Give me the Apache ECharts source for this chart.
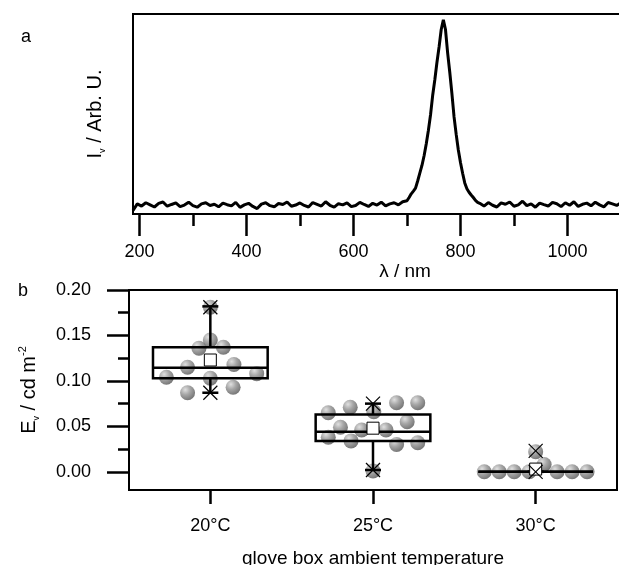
<!DOCTYPE html>
<html>
<head>
<meta charset="utf-8">
<script src="https://cdn.jsdelivr.net/npm/echarts@6/dist/echarts.min.js"></script>
<style>
  html, body { margin: 0; padding: 0; background: #fff; }
  #chart { width: 619px; height: 565px; }
</style>
</head>
<body>
<div id="chart"></div>
<script>
const FONT = '"Liberation Sans", Arial, sans-serif';

// panel a: emission spectrum
const wavelength = [
  188, 196, 204, 212, 220, 228, 236, 244, 252, 260, 268, 276, 284, 292, 300, 308, 316, 324, 332, 340,
  348, 356, 364, 372, 380, 388, 396, 404, 412, 420, 428, 436, 444, 452, 460, 468, 476, 484, 492, 500,
  508, 516, 524, 532, 540, 548, 556, 564, 572, 580, 588, 596, 604, 612, 620, 628, 636, 644, 652, 660,
  668, 676, 684, 692, 700, 704, 708, 712, 716, 720, 724, 728, 732, 736, 740, 744, 748, 752, 756, 760,
  764, 768, 772, 776, 780, 784, 788, 792, 796, 800, 804, 808, 812, 816, 820, 824, 828, 832, 836, 844,
  852, 860, 868, 876, 884, 892, 900, 908, 916, 924, 932, 940, 948, 956, 964, 972, 980, 988, 996, 1004,
  1012, 1020, 1028, 1036, 1044, 1052, 1060, 1068, 1076, 1084, 1092, 1100
];
const intensity = [
  0.018, 0.052, 0.041, 0.058, 0.047, 0.036, 0.055, 0.062, 0.040, 0.049, 0.057, 0.038, 0.046, 0.061, 0.043, 0.035, 0.052, 0.058, 0.044, 0.050,
  0.037, 0.056, 0.048, 0.042, 0.060, 0.034, 0.047, 0.055, 0.039, 0.028, 0.051, 0.058, 0.043, 0.037, 0.054, 0.049, 0.062, 0.040, 0.046, 0.057,
  0.044, 0.036, 0.059, 0.050, 0.041, 0.063, 0.045, 0.035, 0.053, 0.047, 0.057, 0.038, 0.044, 0.060, 0.049, 0.039, 0.055, 0.046, 0.061, 0.042,
  0.052, 0.058, 0.047, 0.063, 0.068, 0.085, 0.104, 0.118, 0.133, 0.170, 0.210, 0.250, 0.300, 0.360, 0.430, 0.510, 0.610, 0.690, 0.780, 0.860,
  0.950, 1.000, 0.950, 0.830, 0.730, 0.620, 0.500, 0.410, 0.330, 0.265, 0.210, 0.160, 0.130, 0.112, 0.098, 0.085, 0.070, 0.060, 0.055, 0.041,
  0.059, 0.045, 0.036, 0.057, 0.050, 0.062, 0.040, 0.047, 0.066, 0.043, 0.052, 0.035, 0.056, 0.048, 0.041, 0.060, 0.053, 0.038, 0.058, 0.045,
  0.063, 0.039, 0.050, 0.056, 0.042, 0.061, 0.047, 0.037, 0.059, 0.052, 0.044, 0.057
];
const lambdaTicks = [200, 400, 600, 800, 1000];

// panel b: illuminance per glove box temperature
const temperatures = ['20°C', '25°C', '30°C'];
const evTicks = [0, 0.05, 0.1, 0.15, 0.2];

const jitter20 = [0, 0, -0.07, 0.08, -0.14, 0.145, -0.27, 0.285, 0, -0.14, 0.14];
const ev20 = [0.181, 0.145, 0.136, 0.137, 0.115, 0.118, 0.104, 0.108, 0.103, 0.087, 0.093];
const jitter25 = [-0.275, -0.14, 0.005, 0.145, 0.275, -0.2, -0.07, 0.08, 0.21, -0.275, -0.135, 0.145, 0.275, 0];
const ev25 = [0.065, 0.071, 0.066, 0.076, 0.076, 0.049, 0.046, 0.046, 0.055, 0.038, 0.034, 0.030, 0.032, 0.001];
const jitter30 = [-0.316, -0.224, -0.132, -0.04, 0.052, 0.132, 0.224, 0.316, 0];
const ev30 = [0, 0, 0, 0, 0.008, 0, 0, 0, 0.022];

// [whisker low, q1, median, q3, whisker high]
const boxStats = [
  [0.087, 0.103, 0.1146, 0.137, 0.182],
  [0.002, 0.034, 0.044, 0.063, 0.075],
  [0, 0, 0, 0, 0]
];
const means = [0.123, 0.048, 0.003];
const minMarks = [0.087, 0.002, 0];
const maxMarks = [0.181, 0.075, 0.023];

const BOX_W = 0.705;

const chart = echarts.init(document.getElementById('chart'));

const ball = {
  color: new echarts.graphic.RadialGradient(0.35, 0.3, 0.75, [
    { offset: 0, color: '#d8d8d8' },
    { offset: 0.45, color: '#909090' },
    { offset: 1, color: '#505050' }
  ])
};

function scatterData(jit, vals, idx) {
  return vals.map((v, k) => [idx + jit[k], v]);
}

function renderBox(params, api) {
  const i = api.value(0);
  const cx = api.coord([i, 0])[0];
  const half = api.size([BOX_W, 0])[0] / 2;
  const y = k => api.coord([i, api.value(k)])[1];
  const wLo = y(1), q1 = y(2), med = y(3), q3 = y(4), wHi = y(5);
  const mean = y(6), mn = y(7), mx = y(8);
  const line = (x1, y1, x2, y2, w) => ({
    type: 'line', shape: { x1, y1, x2, y2 }, style: { stroke: '#000', lineWidth: w }
  });
  const cross = yy => [line(cx - 7, yy - 7, cx + 7, yy + 7, 1.2), line(cx - 7, yy + 7, cx + 7, yy - 7, 1.2)];
  return {
    type: 'group',
    children: [
      line(cx, q3, cx, wHi, 2.5),
      line(cx, q1, cx, wLo, 2.5),
      line(cx - 8, wHi, cx + 8, wHi, 2.5),
      line(cx - 8, wLo, cx + 8, wLo, 2.5),
      {
        type: 'rect',
        shape: { x: cx - half, y: q3, width: half * 2, height: q1 - q3 },
        style: { fill: 'none', stroke: '#000', lineWidth: 2.5 }
      },
      line(cx - half, med, cx + half, med, 2.5),
      {
        type: 'rect',
        shape: { x: cx - 6, y: mean - 6, width: 12, height: 12 },
        style: { fill: '#fff', stroke: '#000', lineWidth: 1 }
      },
      ...cross(mn),
      ...cross(mx)
    ]
  };
}

const tickStyle = { color: '#000', width: 2.5 };
const labelStyle = { color: '#000', fontSize: 18, fontFamily: FONT };
const nameRich = {
  t: { fontSize: 20, fontFamily: FONT, color: '#000', lineHeight: 24 },
  s: { fontSize: 9, fontFamily: FONT, color: '#000', verticalAlign: 'bottom', lineHeight: 24 },
  p: { fontSize: 11, fontFamily: FONT, color: '#000', verticalAlign: 'top', lineHeight: 24 }
};

const option = {
  animation: false,
  backgroundColor: '#fff',
  textStyle: { fontFamily: FONT },
  graphic: [
    { type: 'text', left: 21, top: 28, style: { text: 'a', font: '18px ' + FONT, fill: '#000' } },
    { type: 'text', left: 18, top: 282, style: { text: 'b', font: '18px ' + FONT, fill: '#000' } }
  ],
  grid: [
    {
      left: 133, top: 14, width: 488, height: 200, outerBoundsMode: 'none',
      show: true, borderColor: '#000', borderWidth: 2
    },
    {
      left: 129, top: 290, width: 488, height: 200, outerBoundsMode: 'none',
      show: true, borderColor: '#000', borderWidth: 2
    }
  ],
  xAxis: [
    {
      gridIndex: 0, type: 'value', min: 188, max: 1100,
      name: 'λ / nm', nameLocation: 'middle', nameGap: 44,
      nameTextStyle: { color: '#000', fontSize: 19, fontFamily: FONT, padding: [0, 0, 0, 56] },
      axisLine: { onZero: false, lineStyle: { color: '#000', width: 2 } },
      axisTick: { show: true, inside: false, length: 22, customValues: lambdaTicks, lineStyle: tickStyle },
      minorTick: { show: true, splitNumber: 2, length: 12, lineStyle: { color: '#000', width: 2.5 } },
      axisLabel: Object.assign({ margin: 29, customValues: lambdaTicks, formatter: v => String(v) }, labelStyle),
      splitLine: { show: false }
    },
    {
      gridIndex: 1, type: 'category', data: temperatures, position: 'bottom',
      name: 'glove box ambient temperature', nameLocation: 'middle', nameGap: 59,
      nameTextStyle: { color: '#000', fontSize: 19, fontFamily: FONT },
      axisLine: { onZero: false, lineStyle: { color: '#000', width: 2 } },
      axisTick: { show: true, alignWithLabel: true, length: 14, lineStyle: tickStyle },
      axisLabel: { margin: 27, color: '#000', fontSize: 18, fontFamily: FONT },
      splitLine: { show: false }
    },
    {
      gridIndex: 1, type: 'value', min: -0.5, max: 2.5, position: 'bottom', show: false,
      axisLine: { onZero: false }
    }
  ],
  yAxis: [
    {
      gridIndex: 0, type: 'value', min: 0, max: 1.03,
      name: '{t|I}{s|v}{t| / Arb. U.}', nameLocation: 'middle', nameGap: 26, nameRotate: 90,
      nameTextStyle: { rich: nameRich },
      axisLine: { show: true, onZero: false, lineStyle: { color: '#000', width: 2 } },
      axisTick: { show: false },
      axisLabel: { show: false },
      splitLine: { show: false }
    },
    {
      gridIndex: 1, type: 'value', min: -0.02, max: 0.2,
      name: '{t|E}{s|v}{t| / cd m}{p|-2}', nameLocation: 'middle', nameGap: 88, nameRotate: 90,
      nameTextStyle: { rich: nameRich },
      axisLine: { show: true, onZero: false, lineStyle: { color: '#000', width: 2 } },
      axisTick: { show: true, inside: false, length: 22, customValues: evTicks, lineStyle: tickStyle },
      minorTick: { show: true, splitNumber: 2, length: 11, lineStyle: { color: '#000', width: 2.5 } },
      axisLabel: Object.assign({ margin: 38, customValues: evTicks, formatter: v => v.toFixed(2) }, labelStyle),
      splitLine: { show: false }
    }
  ],
  series: [
    {
      type: 'line', xAxisIndex: 0, yAxisIndex: 0,
      data: wavelength.map((w, k) => [w, intensity[k]]),
      showSymbol: false, symbol: 'none',
      lineStyle: { color: '#000', width: 3 }
    },
    {
      type: 'scatter', xAxisIndex: 2, yAxisIndex: 1, symbolSize: 15,
      data: scatterData(jitter20, ev20, 0).concat(scatterData(jitter25, ev25, 1), scatterData(jitter30, ev30, 2)),
      itemStyle: ball
    },
    {
      type: 'custom', xAxisIndex: 2, yAxisIndex: 1, z: 5,
      renderItem: renderBox,
      data: temperatures.map((t, i) => [i].concat(boxStats[i], [means[i], minMarks[i], maxMarks[i]]))
    }
  ]
};

chart.setOption(option);
</script>
</body>
</html>
